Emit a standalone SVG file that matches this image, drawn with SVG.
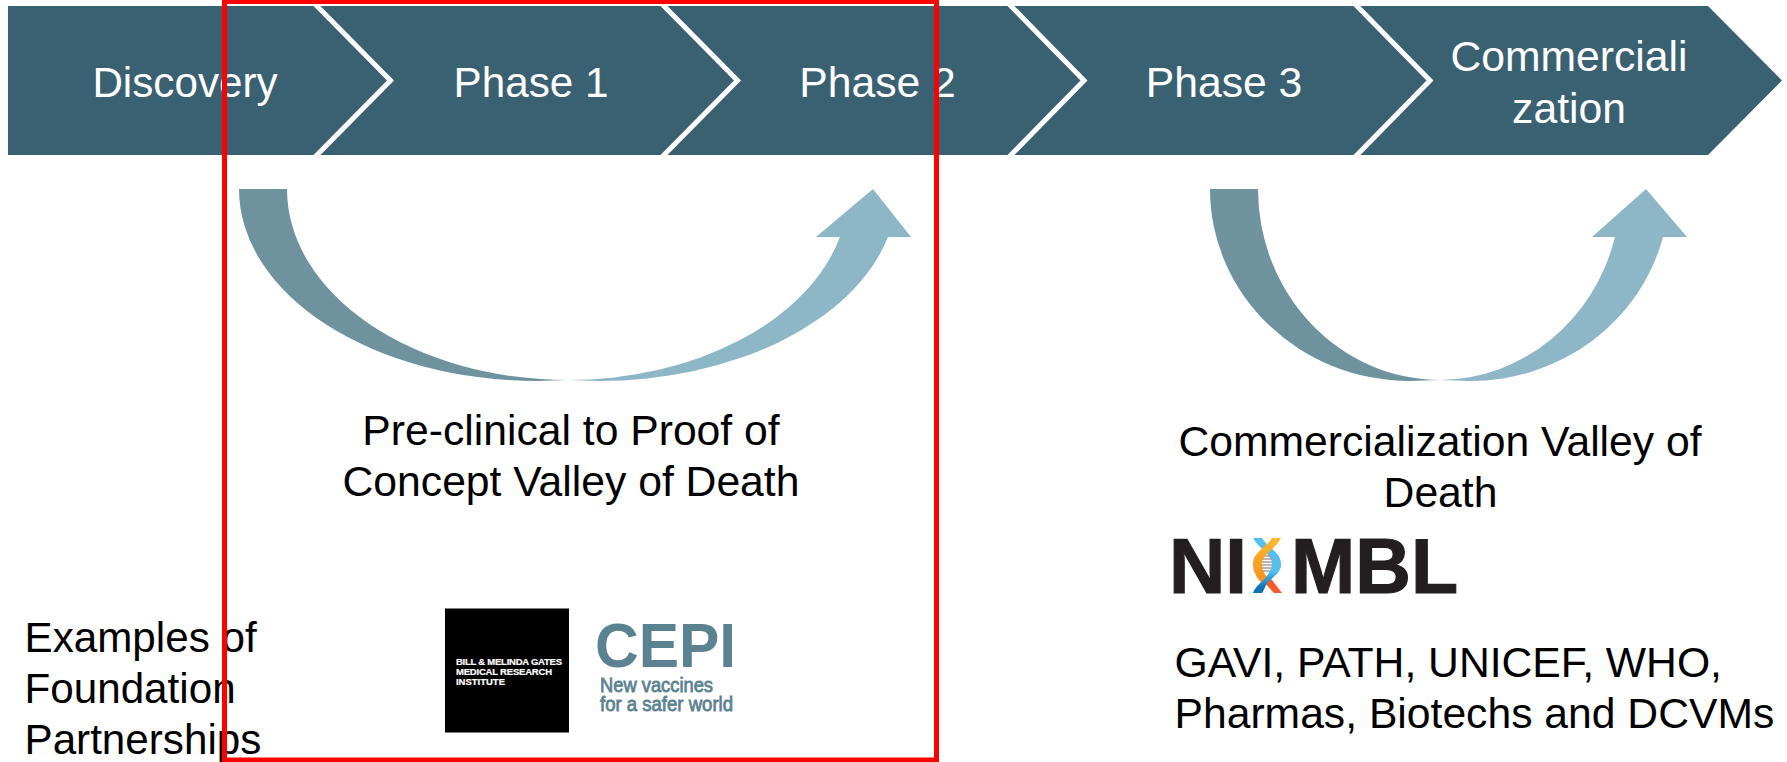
<svg xmlns="http://www.w3.org/2000/svg" width="1787" height="762" viewBox="0 0 1787 762">
<defs>
<linearGradient id="helixBlue" gradientUnits="userSpaceOnUse" x1="0" y1="538" x2="0" y2="593"><stop offset="0" stop-color="#55c0ec"/><stop offset=".6" stop-color="#55c0ec"/><stop offset=".9" stop-color="#1272b8"/></linearGradient>
<linearGradient id="helixOrange" gradientUnits="userSpaceOnUse" x1="0" y1="538" x2="0" y2="585"><stop offset="0" stop-color="#fdb92e"/><stop offset="1" stop-color="#f58d1f"/></linearGradient>
</defs>
<style>
text{font-family:"Liberation Sans",Arial,sans-serif}
.s{font-size:42.67px;fill:#fff;text-anchor:middle}
.b{font-size:42.67px;fill:#000}
.e{font-size:42.200px}
.p{font-size:42.200px}
.m{text-anchor:middle}
.sep{fill:none;stroke:#fff;stroke-width:5}
.d{fill:#6f929f}
.l{fill:#8db6c6}
.w{font-size:9.5px;font-weight:bold;fill:#fff;stroke:#fff;stroke-width:.2}
.c{fill:#5b8290;font-weight:bold}
.t{fill:#5b8290;stroke:#5b8290;stroke-width:.8;font-size:20px}
.n{fill:#231f20;stroke:#231f20;stroke-width:1.2;font-weight:bold;font-size:78px}
</style>
<g id="band">
<path d="M8 6H1708L1782 80.500L1708 155H8Z" fill="#3a6172"/>
</g>
<g id="connectors">
<path class="sep" d="M314 3L390.500 80.500L314 158"/>
<path class="sep" d="M661 3L737.500 80.500L661 158"/>
<path class="sep" d="M1008 3L1084 80.500L1008 158"/>
<path class="sep" d="M1354 3L1430 80.500L1354 158"/>
</g>
<g id="discovery"><text class="s p" x="185" y="97">Discovery</text></g>
<g id="phase1"><text class="s p" x="531" y="97">Phase 1</text></g>
<g id="phase2"><text class="s" x="877.500" y="97">Phase 2</text></g>
<g id="phase3"><text class="s" x="1224" y="97">Phase 3</text></g>
<g id="commercialization"><text class="s" x="1569" y="71">Commerciali</text><text class="s" x="1569" y="123">zation</text></g>
<g id="valley1">
<path class="d" d="M239 189A299 192 0 0 0 538 381L568 380A281 191 0 0 1 287 189Z"/>
<path class="l" d="M568 380A281 191 0 0 0 840 237H816L873 189L911 237H888A299 192 0 0 1 598 381Z"/>
</g>
<g id="valley2">
<path class="d" d="M1210 189A200 192 0 0 0 1410 381L1440 380A182 191 0 0 1 1258 189Z"/>
<path class="l" d="M1440 380A182 191 0 0 0 1615 237H1592L1646 189L1687 237H1663A199 192 0 0 1 1470 381Z"/>
</g>
<g id="label1"><text class="b m" x="571" y="445">Pre-clinical to Proof of</text><text class="b m" x="571" y="495.500">Concept Valley of Death</text></g>
<g id="label2"><text class="b m" x="1440" y="456">Commercialization Valley of</text><text class="b m" x="1440.500" y="507">Death</text></g>
<g id="examples"><text class="b e" x="24.500" y="652">Examples of</text><text class="b e" x="24.500" y="703">Foundation</text><text class="b e" x="24.500" y="754">Partnerships</text></g>
<g id="partners"><text class="b" x="1174.500" y="677">GAVI, PATH, UNICEF, WHO,</text><text class="b" x="1174.500" y="728">Pharmas, Biotechs and DCVMs</text></g>
<g id="gates-logo">
<rect x="445" y="608.500" width="124" height="124" fill="#000"/>
<text class="w" x="456" y="665" textLength="106">BILL &amp; MELINDA GATES</text>
<text class="w" x="456" y="675" textLength="96">MEDICAL RESEARCH</text>
<text class="w" x="456" y="685" textLength="49">INSTITUTE</text>
</g>
<g id="cepi-logo">
<text class="c" x="595" y="667" font-size="63" textLength="141" lengthAdjust="spacingAndGlyphs">CEPI</text>
<text class="t" x="600" y="692" textLength="113" lengthAdjust="spacingAndGlyphs">New vaccines</text>
<text class="t" x="600" y="711" textLength="133" lengthAdjust="spacingAndGlyphs">for a safer world</text>
</g>
<g id="nimbl-logo">
<text class="n" x="1169" y="592.500">NI</text>
<path d="M1263 581L1274 593H1282L1268 575Z" fill="#f15a29"/>
<path d="M1253 538H1262C1268 548 1281 552 1281 564C1281 574 1270 578 1266 585L1262 593H1253C1258 582 1272 576 1272 564C1272 554 1258 548 1253 538Z" fill="url(#helixBlue)"/>
<path d="M1263 556H1272M1262 559H1272M1262 562H1272M1262 565H1272M1262 568H1272M1263 571H1271" stroke="#a0a0a0" stroke-width="1.500"/>
<path d="M1272 538H1281C1275 550 1262 554 1262 564C1262 572 1266 576 1270 580L1265 586C1258 580 1253 573 1253 564C1253 552 1266 548 1272 538Z" fill="url(#helixOrange)"/>
<path d="M1281 564C1281 574 1270 578 1266 585L1262 593H1253C1258 582 1272 576 1272 564Z" fill="url(#helixBlue)"/>
<text class="n" x="1291" y="592.500" textLength="167" lengthAdjust="spacingAndGlyphs">MBL</text>
</g>
<g id="highlight"><rect x="224.500" y="1.500" width="712" height="758.500" fill="none" stroke="#f00" stroke-width="5"/></g>
</svg>
